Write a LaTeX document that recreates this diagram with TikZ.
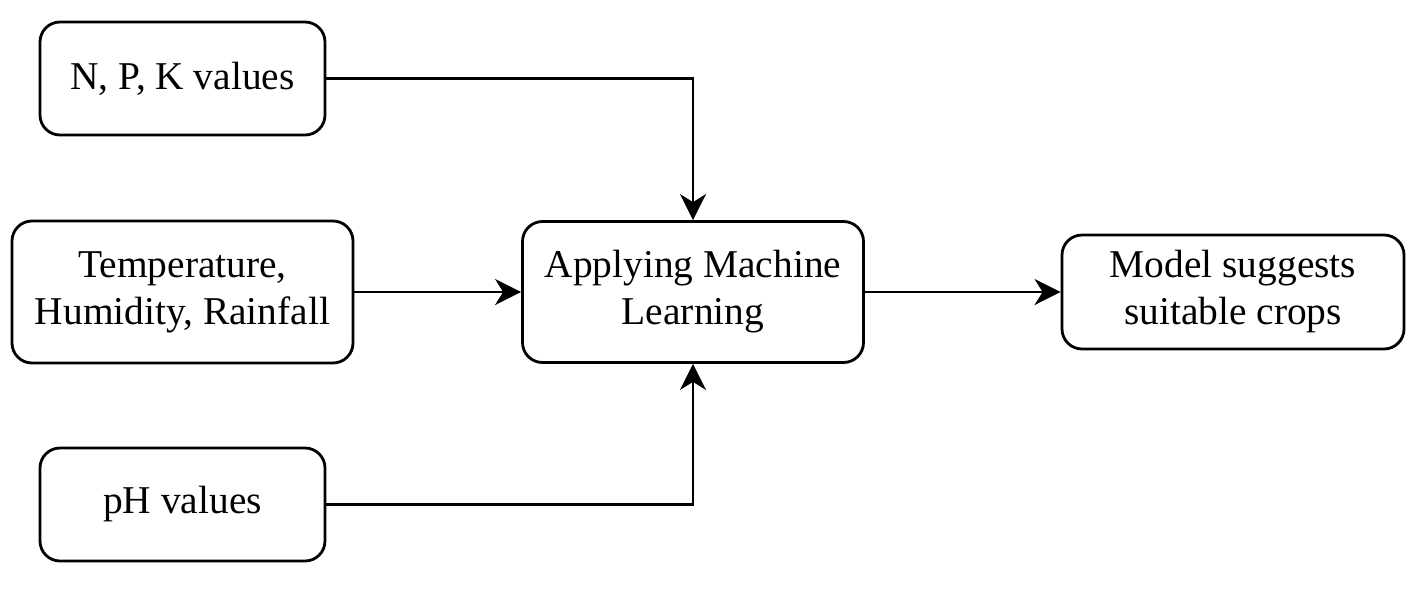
\documentclass[tikz,border=0pt]{standalone}
\usepackage{fontspec}
\setmainfont{Liberation Serif}
\usetikzlibrary{arrows.meta}

\begin{document}
\begin{tikzpicture}[x=0.5pt, y=-0.5pt,
    flowbox/.style={draw, line width=1.4pt, rounded corners=10pt, align=center,
      inner sep=0pt, font=\fontsize{19.7}{23.5}\selectfont},
    flowarrow/.style={line width=1.4pt, -{Stealth[length=13pt, width=13pt, inset=4pt]}}]
  \useasboundingbox (0, 0) rectangle (1424, 600);
  % inputs
  \node[flowbox, minimum width=142.5pt, minimum height=56.5pt] (npk)  at (182.5, 78.5)  {N, P, K values};
  \node[flowbox, minimum width=170.5pt, minimum height=71pt]   (temp) at (182.5, 292)   {Temperature,\\Humidity, Rainfall};
  \node[flowbox, minimum width=142.5pt, minimum height=56.5pt] (ph)   at (182.5, 504.5) {pH values};
  % model
  \node[flowbox, minimum width=170.5pt, minimum height=70.5pt] (ml)    at (693, 292)  {Applying Machine\\Learning};
  \node[flowbox, minimum width=171pt,   minimum height=57pt]   (crops) at (1233, 292) {Model suggests\\suitable crops};
  % connections
  \draw[flowarrow] (npk.east) -| (ml.north);
  \draw[flowarrow] (temp.east) -- (ml.west);
  \draw[flowarrow] (ph.east) -| (ml.south);
  \draw[flowarrow] (ml.east) -- (crops.west);
\end{tikzpicture}
\end{document}
